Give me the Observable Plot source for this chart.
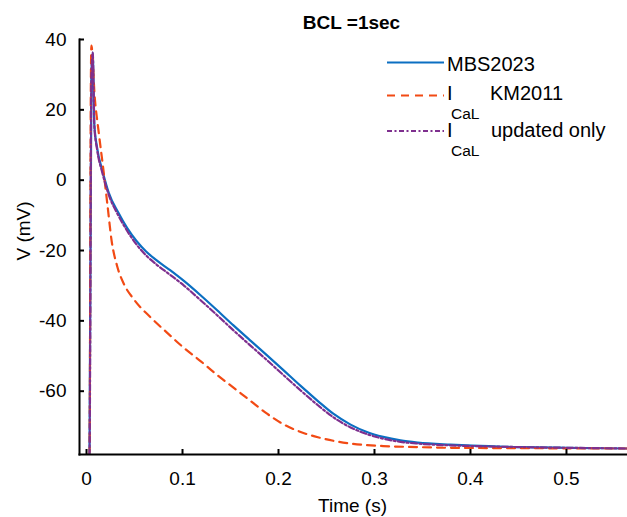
<!DOCTYPE html>
<html>
<head>
<meta charset="utf-8">
<script src="https://cdn.jsdelivr.net/npm/d3@7"></script>
<script src="https://cdn.jsdelivr.net/npm/@observablehq/plot@0.6"></script>
<style>
  body { margin: 0; background: #fff; }
</style>
</head>
<body>
<div id="chart"></div>
<script>
// Time (s) and membrane potential (mV)
const tBlue = [0, 0.001, 0.003, 0.0045, 0.005, 0.0055, 0.006, 0.009, 0.0145, 0.021, 0.031, 0.040, 0.050, 0.060, 0.070, 0.085, 0.100, 0.117, 0.134, 0.151, 0.169, 0.186, 0.203, 0.221, 0.239, 0.255, 0.273, 0.290, 0.307, 0.325, 0.343, 0.377, 0.40, 0.45, 0.50, 0.562];
const vBlue = [-78, -78, 30, 36.3, 30.2, 23.2, 16.1, 9.1, 2.7, -3.5, -9.2, -13.5, -17.3, -20.3, -22.6, -25.6, -28.8, -32.8, -37, -41.3, -45.7, -49.8, -54, -58.5, -62.8, -66.4, -69.5, -71.6, -73.0, -74.0, -74.6, -75.2, -75.5, -75.9, -76.1, -76.3];

const tRed = [0, 0.001, 0.0025, 0.003, 0.0065, 0.0104, 0.0156, 0.0197, 0.024, 0.030, 0.037, 0.047, 0.065, 0.082, 0.099, 0.117, 0.135, 0.152, 0.169, 0.186, 0.203, 0.221, 0.239, 0.255, 0.273, 0.307, 0.343, 0.377, 0.45, 0.562];
const vRed = [-78, -78, 30, 38.3, 23.5, 14.1, 2.7, -7, -17.1, -24.6, -29.6, -33.8, -39.1, -43.4, -47.6, -51.5, -55.6, -59.2, -62.8, -66.4, -69.4, -71.6, -73.1, -74.1, -74.9, -75.6, -75.9, -76.1, -76.2, -76.3];

const tPurple = [0, 0.001, 0.003, 0.0045, 0.005, 0.0055, 0.006, 0.009, 0.0145, 0.021, 0.031, 0.040, 0.050, 0.060, 0.070, 0.085, 0.100, 0.117, 0.134, 0.151, 0.169, 0.186, 0.203, 0.221, 0.239, 0.255, 0.273, 0.290, 0.307, 0.325, 0.343, 0.377, 0.40, 0.45, 0.50, 0.562];
const vPurple = [-78, -78, 30, 36.3, 30.2, 22.7, 15.6, 8.6, 2, -4.1, -10, -14.3, -18.3, -21.4, -23.8, -26.9, -30.1, -34.2, -38.4, -42.7, -47.1, -51.2, -55.4, -59.8, -64, -67.4, -70.3, -72.2, -73.5, -74.4, -74.9, -75.4, -75.6, -75.9, -76.1, -76.3];

const xTicks = [0, 0.1, 0.2, 0.3, 0.4, 0.5];
const yTicks = [-60, -40, -20, 0, 20, 40];
const seriesNames = ["MBS2023", "KM2011", "updated only"];
const colors = ["#0b6fc2", "#f24a14", "#7e2f8e"];
const FONT = '"Liberation Sans", Arial, sans-serif';

const mk = (ts, vs) => ts.map((t, i) => ({t, v: vs[i]}));
const blue = mk(tBlue, vBlue), red = mk(tRed, vRed), purple = mk(tPurple, vPurple);

const chart = Plot.plot({
  width: 627,
  height: 517,
  marginLeft: 79,
  marginRight: 0,
  marginTop: 39,
  marginBottom: 63,
  style: {fontFamily: FONT, fontSize: "19px", color: "#000", background: "#fff"},
  x: {domain: [-0.0094, 0.5615]},
  y: {domain: [-78, 40]},
  marks: [
    Plot.line(blue, {x: "t", y: "v", stroke: colors[0], strokeWidth: 2.2, curve: "monotone-x", clip: true}),
    Plot.line(red, {x: "t", y: "v", stroke: colors[1], strokeWidth: 2.2, strokeDasharray: "8,6", curve: "monotone-x", clip: true}),
    Plot.line(purple, {x: "t", y: "v", stroke: colors[2], strokeWidth: 2.2, strokeDasharray: "6,2.5,2,2.5", curve: "monotone-x", clip: true}),
    Plot.axisX(xTicks, {tickSize: -5, tickPadding: 22, strokeWidth: 2, label: null, tickFormat: d => String(d), fontSize: 19, dx: -2}),
    Plot.axisY(yTicks, {tickSize: -5, tickPadding: 18, strokeWidth: 2, label: null, tickFormat: d => String(d), fontSize: 19}),
    Plot.frame({anchor: "left", strokeWidth: 2}),
    Plot.frame({anchor: "bottom", strokeWidth: 2}),
    Plot.text(["Time (s)"], {frameAnchor: "bottom", dy: 51, dx: -1, fontSize: 19, textAnchor: "middle", lineAnchor: "middle"}),
    Plot.text(["V (mV)"], {frameAnchor: "left", dx: -56, dy: -16, rotate: -90, fontSize: 19, textAnchor: "middle", lineAnchor: "middle"}),
    Plot.text(["BCL =1sec"], {frameAnchor: "top", dy: -11, dx: -2, fontSize: 19, fontWeight: "bold", textAnchor: "middle", lineAnchor: "bottom"})
  ]
});
document.getElementById("chart").appendChild(chart);

// Legend (drawn into the same SVG)
const svg = d3.select(chart);
const leg = svg.append("g").attr("font-family", FONT).attr("fill", "#000").attr("text-anchor", "start");
const rows = [
  {y: 62.5, dash: null, sub: null, text: seriesNames[0], base: 70.5, tx: 447},
  {y: 95.5, dash: "8,6", sub: "CaL", text: seriesNames[1], base: 99.5, tx: 490},
  {y: 131, dash: "5,2.5,2,2.5", sub: "CaL", text: seriesNames[2], base: 136.5, tx: 491}
];
rows.forEach((r, i) => {
  const ln = leg.append("line").attr("x1", 387).attr("x2", 444).attr("y1", r.y).attr("y2", r.y)
    .attr("stroke", colors[i]).attr("stroke-width", 2.2);
  if (r.dash) ln.attr("stroke-dasharray", r.dash);
  if (r.sub) {
    leg.append("text").attr("x", 447).attr("y", r.base).attr("font-size", 20).attr("text-anchor", "start").text("I");
    leg.append("text").attr("x", 451).attr("y", r.base + 19).attr("font-size", 15.5).attr("text-anchor", "start").text(r.sub);
  }
  leg.append("text").attr("x", r.tx).attr("y", r.base).attr("font-size", 20).attr("text-anchor", "start").text(r.text);
});
</script>
</body>
</html>
